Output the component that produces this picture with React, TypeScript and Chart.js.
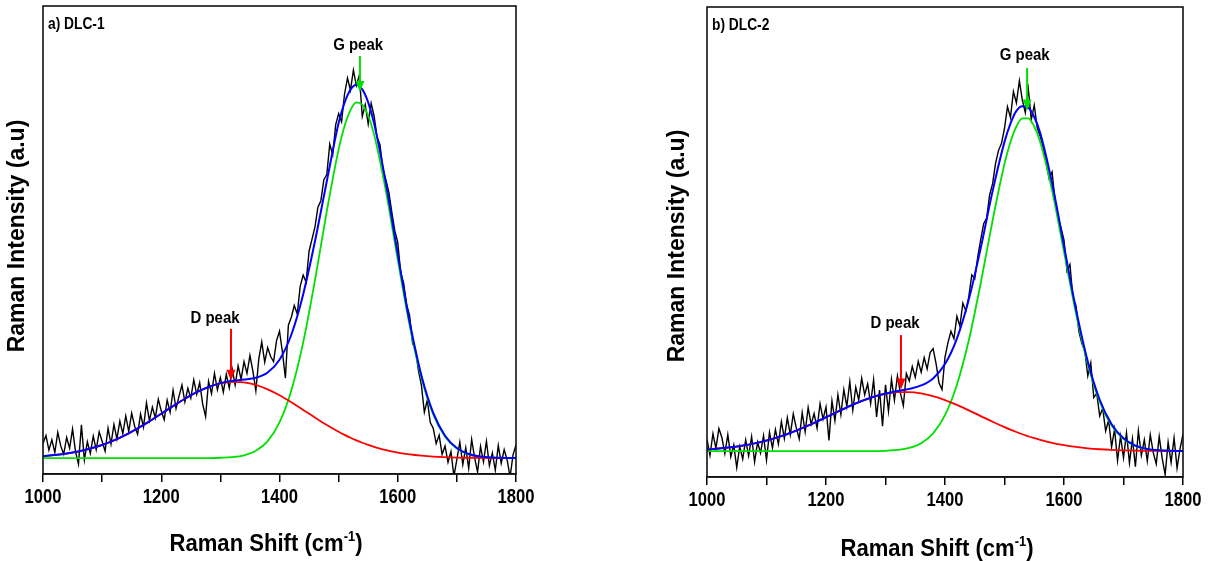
import React, { useEffect, useRef } from "react";
import { Chart, registerables } from "chart.js";

Chart.register(...registerables);

// ---------- DATA ----------
// Raman shift positions of the measured spectra (cm-1)
const xRaw = [
  1000, 1005, 1010, 1015, 1020, 1025, 1030, 1035, 1040, 1045, 1050, 1055, 1060, 1065, 1070, 1075, 1080, 1085, 1090, 1095,
  1100, 1105, 1110, 1115, 1120, 1125, 1130, 1135, 1140, 1145, 1150, 1155, 1160, 1165, 1170, 1175, 1180, 1185, 1190, 1195,
  1200, 1205, 1210, 1215, 1220, 1225, 1230, 1235, 1240, 1245, 1250, 1255, 1260, 1265, 1270, 1275, 1280, 1285, 1290, 1295,
  1300, 1305, 1310, 1315, 1320, 1325, 1330, 1335, 1340, 1345, 1350, 1355, 1360, 1365, 1370, 1375, 1380, 1385, 1390, 1395,
  1400, 1405, 1410, 1415, 1420, 1425, 1430, 1435, 1440, 1445, 1450, 1455, 1460, 1465, 1470, 1475, 1480, 1485, 1490, 1495,
  1500, 1505, 1510, 1515, 1520, 1525, 1530, 1535, 1540, 1545, 1550, 1555, 1560, 1565, 1570, 1575, 1580, 1585, 1590, 1595,
  1600, 1605, 1610, 1615, 1620, 1625, 1630, 1635, 1640, 1645, 1650, 1655, 1660, 1665, 1670, 1675, 1680, 1685, 1690, 1695,
  1700, 1705, 1710, 1715, 1720, 1725, 1730, 1735, 1740, 1745, 1750, 1755, 1760, 1765, 1770, 1775, 1780, 1785, 1790, 1795, 1800,
];

// a) DLC-1 measured spectrum
const rawA = [
  6.5, 8.2, 5.1, 7.3, 4.6, 8.9, 6.0, 4.2, 7.8, 5.5, 9.6, 4.8, 2.1, 10.5, 3.0, 6.9, 4.4, 8.1, 5.2, 9.0,
  7.0, 4.9, 9.8, 6.4, 10.6, 7.5, 11.3, 8.6, 12.4, 9.1, 13.0, 10.2, 8.5, 12.8, 10.0, 15.2, 11.4, 14.3, 12.0, 16.0,
  13.5, 11.6, 15.8, 13.2, 17.9, 14.0, 16.6, 19.0, 15.4, 18.3, 16.2, 20.1, 17.0, 19.5, 15.0, 12.3, 19.8, 17.2, 21.5, 18.0,
  20.6, 17.5, 21.3, 18.4, 22.4, 19.0, 23.1, 20.2, 24.0, 21.5, 25.3, 22.0, 17.8, 24.6, 28.2, 23.9, 27.0, 25.1, 24.0, 28.5,
  30.5, 26.0, 20.5, 31.8, 33.5, 36.0, 34.2, 40.1, 42.5, 41.0, 47.6, 50.2, 52.8, 57.0, 58.4, 62.9, 64.0, 70.5, 68.2, 74.6,
  77.0, 75.3, 81.2, 84.6, 82.0, 86.3, 83.0, 85.2, 76.4, 78.9, 74.8, 79.2, 76.5, 72.0, 70.3, 65.1, 62.8, 60.2, 55.9, 52.0,
  49.5, 43.0, 40.8, 36.2, 33.9, 28.0, 26.5, 22.1, 19.0, 13.2, 15.8, 11.0, 9.8, 6.5, 8.3, 4.2, 6.0, 2.5, 4.8, -0.5,
  3.1, 6.8, 2.0, 5.6, 1.2, 7.4, 3.5, 0.4, 5.9, 2.6, 7.0, 1.8, 4.5, 0.8, 6.1, 2.3, 5.2, 3.0, -0.6, 4.1, 6.2,
];

// b) DLC-2 measured spectrum
const rawB = [
  8.0, 4.6, 9.2, 6.1, 10.3, 8.4, 5.0, 9.0, 4.3, 6.8, 2.0, 6.5, 3.8, 7.9, 4.5, 8.6, 3.2, 7.4, 5.1, 8.8,
  3.6, 9.5, 6.2, 10.1, 7.0, 11.8, 8.2, 12.6, 9.0, 13.4, 10.5, 8.1, 13.7, 9.6, 14.8, 11.2, 13.5, 10.4, 15.6, 12.3,
  14.9, 7.8, 16.2, 12.0, 17.5, 13.3, 18.6, 15.0, 20.3, 14.2, 19.1, 16.4, 21.0, 17.5, 19.8, 15.6, 20.7, 12.8, 18.5, 10.8,
  19.6, 14.0, 20.8, 16.3, 21.5, 17.9, 15.2, 22.0, 20.4, 23.5, 21.2, 24.6, 22.3, 25.4, 23.0, 26.5, 27.3, 24.1, 20.0, 18.6,
  25.5, 28.6, 31.0, 29.4, 34.2, 32.1, 37.0, 35.3, 38.4, 43.0, 42.2, 46.8, 50.5, 53.9, 55.1, 60.0, 62.4, 66.8, 69.5, 71.0,
  74.2, 78.8, 76.5, 82.0, 79.6, 84.3, 80.2, 77.5, 82.6, 76.0, 79.1, 74.3, 72.5, 70.2, 66.8, 63.5, 64.9, 58.6, 55.2, 53.0,
  50.4, 43.8, 45.2, 38.1, 36.5, 31.0, 28.4, 26.8, 21.5, 24.3, 16.9, 17.8, 13.0, 14.6, 9.8, 12.1, 6.4, 10.2, 3.5, 8.7,
  4.1, 9.4, 3.0, 8.1, 2.2, 9.8, 4.6, 7.9, 3.4, 9.0, 5.2, 2.8, 8.6, 4.0, 0.5, 7.4, 3.1, 8.3, 1.9, 6.0, 9.1,
];

// Raman shift positions of the fitted curves (cm-1)
const xFit = [
  1000, 1020, 1040, 1060, 1080, 1100, 1120, 1140, 1160, 1180, 1200, 1220, 1240, 1260, 1280, 1300, 1320, 1340, 1360, 1380,
  1400, 1420, 1440, 1460, 1480, 1500, 1510, 1520, 1530, 1540, 1550, 1560, 1580, 1600, 1620, 1640, 1660, 1680, 1700, 1720,
  1740, 1760, 1780, 1800,
];

// a) DLC-1 fitted curves
const dPeakA = [
  3.82, 4.05, 4.37, 4.82, 5.43, 6.21, 7.19, 8.37, 9.73, 11.25, 12.88, 14.51, 16.08, 17.48, 18.59, 19.35, 19.69, 19.57, 19.02, 18.07,
  16.81, 15.32, 13.7, 12.06, 10.48, 9.03, 8.37, 7.75, 7.19, 6.67, 6.21, 5.8, 5.1, 4.58, 4.19, 3.92, 3.73, 3.61, 3.52, 3.47,
  3.44, 3.42, 3.41, 3.41,
];
const gPeakA = [
  3.4, 3.4, 3.4, 3.4, 3.4, 3.4, 3.4, 3.4, 3.4, 3.4, 3.4, 3.4, 3.4, 3.4, 3.4, 3.47, 3.61, 4.0, 4.95, 7.02,
  11.02, 17.84, 28.07, 41.4, 56.14, 69.36, 74.35, 77.75, 79.39, 78.91, 76.6, 72.52, 60.42, 45.79, 31.79, 20.55, 12.73, 7.97, 5.42, 4.2,
  3.69, 3.49, 3.43, 3.41,
];
const fitA = [
  3.82, 4.05, 4.37, 4.82, 5.43, 6.21, 7.19, 8.37, 9.73, 11.25, 12.88, 14.51, 16.08, 17.48, 18.59, 19.42, 19.9, 20.17, 20.57, 21.69,
  24.43, 29.76, 38.37, 49.72, 62.56, 74.99, 79.32, 82.1, 83.18, 82.18, 79.41, 74.92, 62.12, 46.97, 32.58, 21.07, 13.06, 8.18, 5.54, 4.27,
  3.73, 3.51, 3.44, 3.42,
];

// b) DLC-2 fitted curves
const dPeakB = [
  5.87, 6.06, 6.32, 6.68, 7.15, 7.75, 8.49, 9.37, 10.39, 11.52, 12.71, 13.93, 15.11, 16.17, 17.06, 17.69, 18.04, 18.07, 17.79, 17.2,
  16.37, 15.33, 14.18, 12.96, 11.75, 10.61, 10.07, 9.57, 9.09, 8.66, 8.25, 7.89, 7.26, 6.77, 6.39, 6.1, 5.9, 5.76, 5.67, 5.6,
  5.56, 5.54, 5.52, 5.51,
];
const gPeakB = [
  5.5, 5.5, 5.5, 5.5, 5.5, 5.5, 5.5, 5.5, 5.5, 5.5, 5.5, 5.5, 5.5, 5.5, 5.5, 5.58, 5.75, 6.18, 7.19, 9.28,
  13.17, 19.63, 29.09, 41.23, 54.58, 66.64, 71.28, 74.58, 76.29, 76.29, 74.58, 71.28, 60.95, 47.89, 34.89, 23.98, 16.04, 10.95, 8.06, 6.59,
  5.92, 5.65, 5.55, 5.51,
];
const fitB = [
  5.87, 6.06, 6.32, 6.68, 7.15, 7.75, 8.49, 9.37, 10.39, 11.52, 12.71, 13.93, 15.11, 16.17, 17.06, 17.77, 18.29, 18.75, 19.48, 20.98,
  24.04, 29.46, 37.77, 48.69, 60.83, 71.3, 75.2, 77.9, 78.9, 78.6, 76.6, 73.2, 62.5, 49.16, 35.78, 24.58, 16.44, 11.21, 8.23, 6.69,
  5.98, 5.69, 5.57, 5.52,
];

// Axis ticks
const xTickStep = 100;
const xTickLabels = [1000, 1200, 1400, 1600, 1800];
const xMin = 1000;
const xMax = 1800;

// Peak annotations: [D peak, G peak]
const peakNames = ["D peak", "G peak"];
const peakColors = ["#ff0000", "#00e000"];
const peakArrowXA = [1318, 1536];
const peakLabelXA = [1291, 1533];
const peakLabelYA = [33.3, 91.6];
const peakTailYA = [31.0, 89.3];
const peakHeadYA = [19.9, 81.6];

const peakArrowXB = [1326, 1538];
const peakLabelXB = [1316, 1534];
const peakLabelYB = [32.6, 89.8];
const peakTailYB = [30.2, 87.0];
const peakHeadYB = [18.6, 78.0];

const panelTitles = ["a) DLC-1", "b) DLC-2"];
const yTitle = "Raman Intensity (a.u)";
const xTitleMain = "Raman Shift (cm";
const xTitleSup = "-1";
const xTitleEnd = ")";

// ---------- STYLE ----------
const SANS = "'Liberation Sans', Arial, Helvetica, sans-serif";

type PanelCfg = {
  raw: number[];
  dPeak: number[];
  gPeak: number[];
  fit: number[];
  title: string;
  arrowX: number[];
  labelX: number[];
  labelY: number[];
  tailY: number[];
  headY: number[];
  canvasLeft: number;
  canvasWidth: number;
  pad: { left: number; top: number; right: number };
  xAxisHeight: number;
  yTitleX: number;
  yTitleY: number;
  xTitleX: number;
  xTitleY: number;
};

function pts(xs: number[], ys: number[]) {
  return xs.map((x, i) => ({ x, y: ys[i] }));
}

// draws horizontally condensed text (the reference uses a narrow bold face)
function narrowText(ctx: any, text: string, x: number, y: number, size: number, squeeze: number, align: string) {
  ctx.save();
  ctx.translate(x, y);
  ctx.scale(squeeze, 1);
  ctx.font = `bold ${size}px ${SANS}`;
  ctx.textAlign = align;
  ctx.textBaseline = "middle";
  ctx.fillText(text, 0, 0);
  ctx.restore();
}

function overlayPlugin(cfg: PanelCfg) {
  return {
    id: "overlay",
    afterDraw(chart: any) {
      const { ctx, chartArea: ca, scales } = chart;
      const xs = scales.x;
      const ys = scales.y;
      ctx.save();
      // frame
      ctx.strokeStyle = "#111";
      ctx.lineWidth = 1.6;
      ctx.strokeRect(ca.left, ca.top, ca.right - ca.left, ca.bottom - ca.top);

      ctx.fillStyle = "#000";
      // tick labels
      for (const v of xTickLabels) {
        narrowText(ctx, String(v), xs.getPixelForValue(v), ca.bottom + 23, 20, 0.83, "center");
      }

      // panel title
      narrowText(ctx, cfg.title, ca.left + 5, ca.top + 19, 16, 0.86, "left");

      // peak labels and arrows
      for (let i = 0; i < peakNames.length; i++) {
        const lx = xs.getPixelForValue(cfg.labelX[i]);
        const ly = ys.getPixelForValue(cfg.labelY[i]);
        ctx.fillStyle = "#000";
        narrowText(ctx, peakNames[i], lx, ly, 17, 0.88, "center");

        const ax = xs.getPixelForValue(cfg.arrowX[i]);
        const t = ys.getPixelForValue(cfg.tailY[i]);
        const h = ys.getPixelForValue(cfg.headY[i]);
        ctx.strokeStyle = peakColors[i];
        ctx.fillStyle = peakColors[i];
        ctx.lineWidth = 2;
        ctx.beginPath();
        ctx.moveTo(ax, t);
        ctx.lineTo(ax, h - 8);
        ctx.stroke();
        ctx.beginPath();
        ctx.moveTo(ax - 4.5, h - 11);
        ctx.lineTo(ax + 4.5, h - 11);
        ctx.lineTo(ax, h);
        ctx.closePath();
        ctx.fill();
      }

      // y title
      ctx.save();
      ctx.translate(cfg.yTitleX, cfg.yTitleY);
      ctx.rotate(-Math.PI / 2);
      ctx.fillStyle = "#000";
      ctx.font = `bold 23px ${SANS}`;
      ctx.textAlign = "center";
      ctx.textBaseline = "middle";
      ctx.fillText(yTitle, 0, 0);
      ctx.restore();

      // x title with superscript
      const sq = 0.92;
      const mainFont = `bold 24px ${SANS}`;
      const supFont = `bold 14px ${SANS}`;
      ctx.font = mainFont;
      const w1 = ctx.measureText(xTitleMain).width;
      const w3 = ctx.measureText(xTitleEnd).width;
      ctx.font = supFont;
      const w2 = ctx.measureText(xTitleSup).width;
      const total = (w1 + w2 + w3) * sq;
      ctx.save();
      ctx.translate(cfg.xTitleX - total / 2, cfg.xTitleY + 8);
      ctx.scale(sq, 1);
      ctx.textAlign = "left";
      ctx.textBaseline = "alphabetic";
      ctx.fillStyle = "#000";
      ctx.font = mainFont;
      ctx.fillText(xTitleMain, 0, 0);
      ctx.font = supFont;
      ctx.fillText(xTitleSup, w1, -10);
      ctx.font = mainFont;
      ctx.fillText(xTitleEnd, w1 + w2, 0);
      ctx.restore();
      ctx.restore();
    },
  };
}

function Panel({ cfg }: { cfg: PanelCfg }) {
  const ref = useRef<HTMLCanvasElement>(null);
  useEffect(() => {
    const canvas = ref.current!;
    const chart = new Chart(canvas, {
      type: "line",
      data: {
        datasets: [
          {
            data: pts(xFit, cfg.fit),
            borderColor: "#0000ff",
            borderWidth: 2,
            pointRadius: 0,
            cubicInterpolationMode: "monotone",
            fill: false,
          },
          {
            data: pts(xFit, cfg.dPeak),
            borderColor: "#ff0000",
            borderWidth: 1.8,
            pointRadius: 0,
            cubicInterpolationMode: "monotone",
            fill: false,
          },
          {
            data: pts(xFit, cfg.gPeak),
            borderColor: "#00e000",
            borderWidth: 1.8,
            pointRadius: 0,
            cubicInterpolationMode: "monotone",
            fill: false,
          },
          {
            data: pts(xRaw, cfg.raw),
            borderColor: "#000000",
            borderWidth: 1.4,
            pointRadius: 0,
            tension: 0,
            fill: false,
          },
        ],
      } as any,
      options: {
        animation: false,
        responsive: false,
        events: [],
        layout: { padding: { left: cfg.pad.left, top: cfg.pad.top, right: cfg.pad.right, bottom: 0 } },
        plugins: { legend: { display: false }, tooltip: { enabled: false }, title: { display: false } },
        scales: {
          x: {
            type: "linear",
            min: xMin,
            max: xMax,
            ticks: {
              stepSize: xTickStep,
              autoSkip: false,
              maxRotation: 0,
              color: "#000",
              callback: () => "",
            },
            grid: {
              display: true,
              drawOnChartArea: false,
              drawTicks: true,
              tickLength: 8,
              color: "#000",
              lineWidth: 1.5,
            },
            border: { display: true, color: "#111", width: 1.6 },
            afterFit: (s: any) => {
              s.height = cfg.xAxisHeight;
            },
          },
          y: { display: false, min: 0, max: 100 },
        },
      } as any,
      plugins: [overlayPlugin(cfg)],
    });
    return () => chart.destroy();
  }, []);
  return (
    <canvas
      ref={ref}
      width={cfg.canvasWidth}
      height={561}
      style={{ position: "absolute", left: cfg.canvasLeft, top: 0, width: cfg.canvasWidth, height: 561 }}
    />
  );
}

const panelA: PanelCfg = {
  raw: rawA,
  dPeak: dPeakA,
  gPeak: gPeakA,
  fit: fitA,
  title: panelTitles[0],
  arrowX: peakArrowXA,
  labelX: peakLabelXA,
  labelY: peakLabelYA,
  tailY: peakTailYA,
  headY: peakHeadYA,
  canvasLeft: 0,
  canvasWidth: 600,
  pad: { left: 43, top: 6, right: 84 },
  xAxisHeight: 87,
  yTitleX: 18,
  yTitleY: 236,
  xTitleX: 266,
  xTitleY: 543,
};

const panelB: PanelCfg = {
  raw: rawB,
  dPeak: dPeakB,
  gPeak: gPeakB,
  fit: fitB,
  title: panelTitles[1],
  arrowX: peakArrowXB,
  labelX: peakLabelXB,
  labelY: peakLabelYB,
  tailY: peakTailYB,
  headY: peakHeadYB,
  canvasLeft: 600,
  canvasWidth: 615,
  pad: { left: 107, top: 7, right: 32 },
  xAxisHeight: 84,
  yTitleX: 78,
  yTitleY: 246,
  xTitleX: 337,
  xTitleY: 548,
};

export default function App() {
  return (
    <div style={{ position: "fixed", left: 0, top: 0, width: 1215, height: 561, background: "#fff" }}>
      <Panel cfg={panelA} />
      <Panel cfg={panelB} />
    </div>
  );
}
